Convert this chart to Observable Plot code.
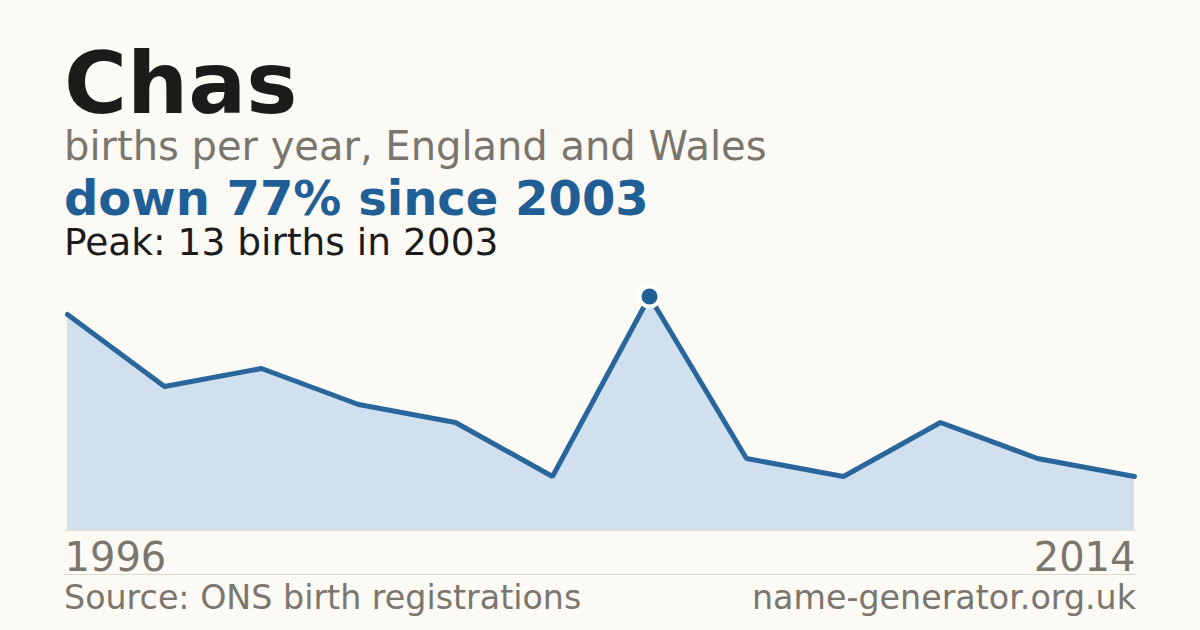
<!DOCTYPE html>
<html>
<head>
<meta charset="utf-8">
<script src="https://cdn.jsdelivr.net/npm/d3@7"></script>
<script src="https://cdn.jsdelivr.net/npm/@observablehq/plot@0.6"></script>
<style>
  html, body { margin: 0; padding: 0; background: #fbfaf5; }
  #wrap { position: relative; width: 1200px; height: 630px; overflow: hidden; background: #fbfaf5; font-family: "DejaVu Sans", sans-serif; }
  .t { position: absolute; left: 64px; line-height: 0.85; white-space: nowrap; }
  #title { top: 47px; font-size: 86px; font-weight: bold; color: #1b1b1b; }
  #sub { top: 129px; font-size: 40px; color: #7a766e; }
  #trend { top: 178px; font-size: 48px; font-weight: bold; color: #1f5f96; }
  #peak { top: 227px; font-size: 37.5px; color: #1b1b1b; }
  #chart { position: absolute; left: 0; top: 270px; }
  #sep { position: absolute; left: 64px; width: 1072px; top: 574px; height: 1px; background: #dcd8cf; }
  .foot { position: absolute; top: 584px; font-size: 33.3px; line-height: 0.85; color: #7a766e; white-space: nowrap; }
  #src { left: 64px; }
  #site { right: 64px; }
</style>
</head>
<body>
<div id="wrap">
  <div class="t" id="title">Chas</div>
  <div class="t" id="sub">births per year, England and Wales</div>
  <div class="t" id="trend">down 77% since 2003</div>
  <div class="t" id="peak">Peak: 13 births in 2003</div>
  <div id="chart"></div>
  <div id="sep"></div>
  <div class="foot" id="src">Source: ONS birth registrations</div>
  <div class="foot" id="site">name-generator.org.uk</div>
</div>
<script>
const years = [1996, 1997, 1998, 2000, 2001, 2002, 2003, 2004, 2006, 2008, 2011, 2014];
const births = [12, 8, 9, 7, 6, 3, 13, 4, 3, 6, 4, 3];
const peakYear = 2003;
const tickFirst = [1996];
const tickLast = [2014];

const data = years.map((y, i) => ({year: y, births: births[i]}));
const peak = data.filter(d => d.year === peakYear);

const chart = Plot.plot({
  width: 1200,
  height: 310,
  marginLeft: 64,
  marginRight: 64,
  marginTop: 26,
  marginBottom: 50,
  style: {background: "transparent", fontFamily: "DejaVu Sans, sans-serif"},
  x: {type: "point", domain: years, padding: 0, align: 0.5, range: [64, 1136]},
  y: {domain: [0, 13], axis: null},
  marks: [
    Plot.areaY(data, {x: "year", y: "births", fill: "#d0e0ef"}),
    Plot.ruleY([0], {stroke: "#e4dfd3", strokeWidth: 1}),
    Plot.lineY(data, {x: "year", y: "births", stroke: "#29669b", strokeWidth: 5, strokeLinejoin: "miter"}),
    Plot.dot(peak, {x: "year", y: "births", r: 10, fill: "#1f5f96", stroke: "#ffffff", strokeWidth: 4}),
    Plot.axisX({ticks: tickFirst, tickFormat: d => String(d), tickSize: 0, tickPadding: 12, textAnchor: "start", dx: -3, fontSize: 40, fill: "#7a766e", label: null}),
    Plot.axisX({ticks: tickLast, tickFormat: d => String(d), tickSize: 0, tickPadding: 12, textAnchor: "end", dx: 1, fontSize: 40, fill: "#7a766e", label: null})
  ]
});
document.getElementById("chart").appendChild(chart);
</script>
</body>
</html>
